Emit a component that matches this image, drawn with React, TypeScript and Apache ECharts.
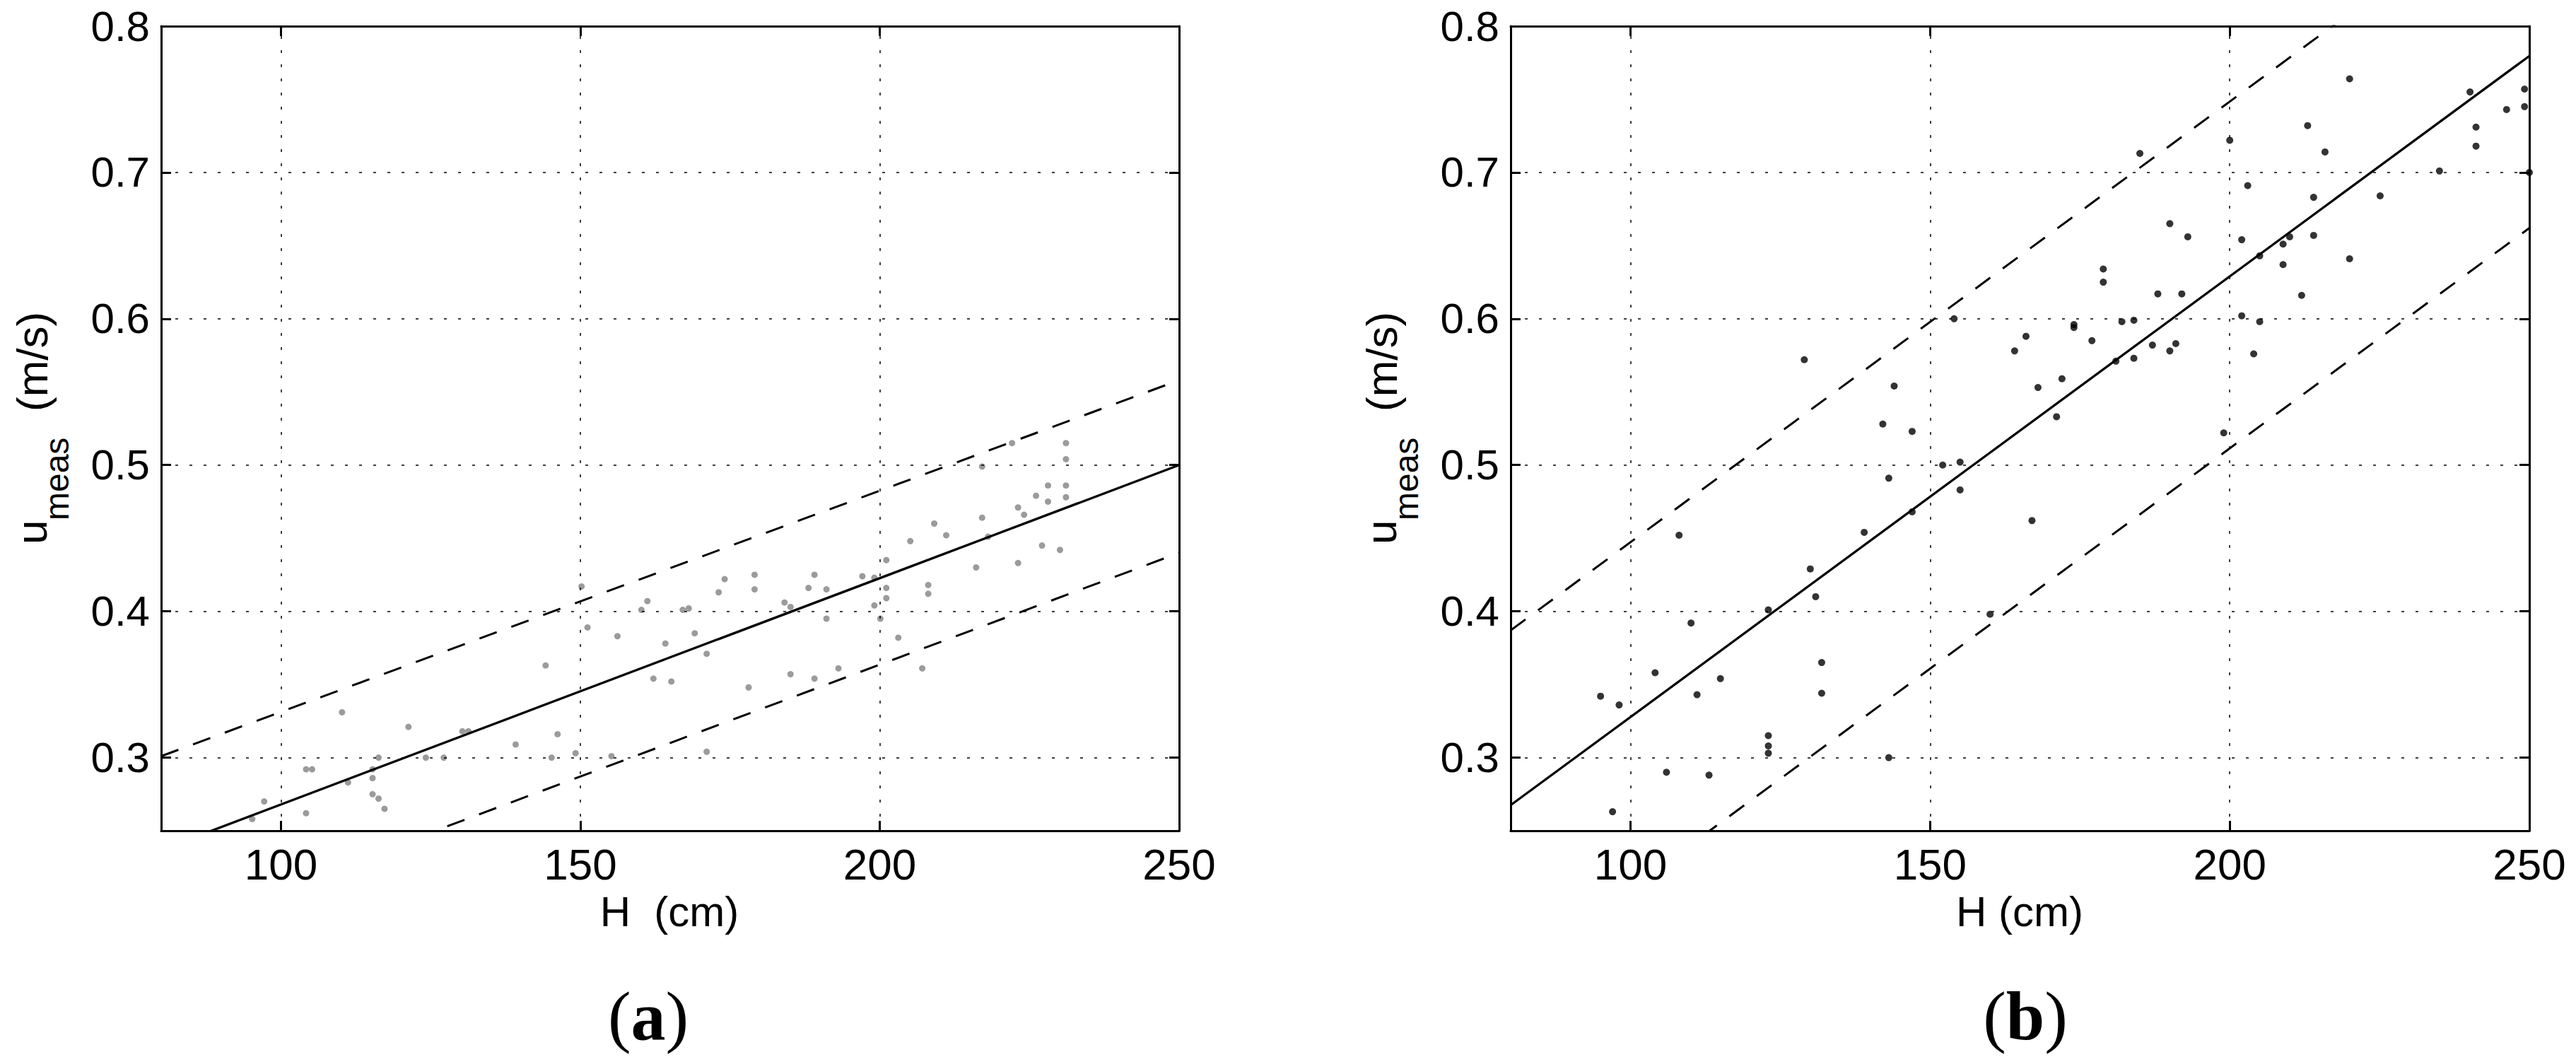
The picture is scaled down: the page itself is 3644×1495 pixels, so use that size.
import React, { useEffect, useRef } from "react";
import * as echarts from "echarts";

// ---------- data ----------
// Panel (a): measured points
const hA = [95.2, 97.2, 104.2, 104.2, 105.2, 110.2, 111.2, 115.3, 115.3, 116.3, 115.3, 116.3, 117.3, 121.3, 124.2, 127.2, 130.3, 131.3, 139.2, 144.2, 145.2, 146.2, 149.2, 150.2, 151.2, 155.2, 156.2, 160.2, 161.2, 162.2, 164.2, 165.2, 167.1, 168.1, 169.1, 171.1, 171.1, 173.1, 174.1, 178.1, 179.1, 179.1, 184.1, 185.1, 185.1, 188.1, 189.1, 189.1, 191.1, 191.1, 193.1, 197.1, 199.1, 199.1, 200.1, 201.1, 201.1, 201.1, 203.1, 205.1, 207.1, 208.1, 208.1, 209.1, 211.1, 216.1, 217.1, 217.1, 218.1, 222.1, 223.1, 223.1, 224.1, 226.1, 227.1, 228.1, 228.1, 230.1, 231.1, 231.1, 231.1, 231.1];
const uA = [0.258, 0.270, 0.262, 0.292, 0.292, 0.331, 0.283, 0.292, 0.286, 0.300, 0.275, 0.272, 0.265, 0.321, 0.300, 0.300, 0.318, 0.318, 0.309, 0.363, 0.300, 0.316, 0.303, 0.417, 0.389, 0.301, 0.383, 0.401, 0.407, 0.354, 0.378, 0.352, 0.401, 0.402, 0.385, 0.371, 0.304, 0.413, 0.422, 0.348, 0.425, 0.415, 0.406, 0.403, 0.357, 0.416, 0.425, 0.354, 0.415, 0.395, 0.361, 0.424, 0.423, 0.404, 0.395, 0.435, 0.416, 0.409, 0.382, 0.448, 0.361, 0.418, 0.412, 0.460, 0.452, 0.430, 0.499, 0.464, 0.451, 0.515, 0.471, 0.433, 0.466, 0.479, 0.445, 0.486, 0.475, 0.442, 0.515, 0.504, 0.486, 0.478];

// Panel (b): measured points
const hB = [95.0, 98.1, 97.0, 104.1, 106.0, 108.1, 110.1, 111.1, 113.1, 115.0, 123.0, 123.0, 123.0, 123.0, 129.0, 130.0, 130.9, 131.9, 131.9, 139.0, 142.1, 143.1, 143.1, 144.0, 147.0, 147.0, 152.1, 154.0, 155.0, 155.0, 160.0, 164.1, 166.0, 167.0, 168.0, 171.1, 172.0, 174.0, 174.0, 177.0, 178.9, 178.9, 181.0, 182.0, 184.0, 184.0, 185.0, 187.1, 188.0, 190.0, 190.0, 191.0, 192.0, 193.0, 199.0, 200.0, 202.0, 202.0, 203.0, 204.0, 205.0, 205.0, 208.9, 208.9, 210.0, 212.0, 213.0, 214.0, 214.0, 215.9, 220.0, 220.0, 225.1, 235.0, 240.1, 241.1, 241.1, 246.2, 249.2, 249.2, 250.0];
const uB = [0.342, 0.336, 0.263, 0.358, 0.290, 0.452, 0.392, 0.343, 0.288, 0.354, 0.401, 0.315, 0.308, 0.303, 0.572, 0.429, 0.410, 0.365, 0.344, 0.454, 0.528, 0.491, 0.300, 0.554, 0.523, 0.468, 0.500, 0.600, 0.502, 0.483, 0.398, 0.578, 0.588, 0.462, 0.553, 0.533, 0.559, 0.596, 0.594, 0.585, 0.634, 0.625, 0.571, 0.598, 0.599, 0.573, 0.713, 0.582, 0.617, 0.665, 0.578, 0.583, 0.617, 0.656, 0.522, 0.722, 0.654, 0.602, 0.691, 0.576, 0.643, 0.598, 0.637, 0.651, 0.656, 0.616, 0.732, 0.683, 0.657, 0.714, 0.764, 0.641, 0.684, 0.701, 0.755, 0.731, 0.718, 0.743, 0.757, 0.745, 0.700];

// Fit lines (values at H = 80 and H = 250)
const fitH = [80, 250];
const fitA = [0.237, 0.5];
const upperA = [0.301, 0.558];
const lowerA = [0.18, 0.44];
const fitB = [0.2675, 0.7796];
const upperB = [0.387, 0.899];
const lowerB = [0.15, 0.662];

// Axes
const xMin = 80;
const xMax = 250;
const yMin = 0.25;
const yMax = 0.8;
const xTicks = [100, 150, 200, 250];
const yTicks = [0.3, 0.4, 0.5, 0.6, 0.7, 0.8];
const xGrid = [100, 150, 200];
const yGrid = [0.3, 0.4, 0.5, 0.6, 0.7];

const FONT = "'Liberation Sans', Arial, Helvetica, sans-serif";
const SERIF = "'Liberation Serif', 'Times New Roman', Times, serif";

const zip = (xs: number[], ys: number[]) => xs.map((x, i) => [x, ys[i]]);

function makeX(gridIndex: number, position: string, labels: boolean) {
  return {
    type: "value",
    gridIndex,
    position,
    min: xMin,
    max: xMax,
    axisLine: { show: true, onZero: false, lineStyle: { color: "#000", width: 3 } },
    axisTick: { show: true, inside: true, length: 14, customValues: xTicks, lineStyle: { color: "#000", width: 3 } },
    axisLabel: {
      show: labels,
      customValues: xTicks,
      showMinLabel: true,
      showMaxLabel: true,
      margin: 16,
      color: "#000",
      fontSize: 62,
      fontFamily: FONT,
    },
    splitLine: { show: false },
  };
}

function makeY(gridIndex: number, position: string, labels: boolean) {
  return {
    type: "value",
    gridIndex,
    position,
    min: yMin,
    max: yMax,
    axisLine: { show: true, onZero: false, lineStyle: { color: "#000", width: 3 } },
    axisTick: { show: true, inside: true, length: 14, customValues: yTicks, lineStyle: { color: "#000", width: 3 } },
    axisLabel: {
      show: labels,
      customValues: yTicks,
      showMinLabel: true,
      showMaxLabel: true,
      margin: 16,
      color: "#000",
      fontSize: 60,
      fontFamily: FONT,
      formatter: (v: number) => v.toFixed(1),
    },
    splitLine: { show: false },
  };
}

function gridMarks() {
  return {
    silent: true,
    symbol: ["none", "none"],
    label: { show: false },
    lineStyle: { color: "#000", width: 1.5, type: [4, 16], opacity: 1 },
    emphasis: { disabled: true },
    data: [...xGrid.map((v) => ({ xAxis: v })), ...yGrid.map((v) => ({ yAxis: v }))],
  };
}

function lineSeries(xi: number, yi: number, ys: number[], dashed: boolean) {
  return {
    type: "line",
    xAxisIndex: xi,
    yAxisIndex: yi,
    data: zip(fitH, ys),
    showSymbol: false,
    symbol: "none",
    clip: true,
    silent: true,
    z: 3,
    lineStyle: { color: "#000", width: dashed ? 3 : 3.3, type: dashed ? [26, 22] : "solid" },
  };
}

function yTitle(dx: number) {
  return [
    {
      type: "text",
      x: 44 + dx,
      y: 770,
      rotation: Math.PI / 2,
      style: { text: "u", font: `62px ${FONT}`, fill: "#000", align: "left", verticalAlign: "middle" },
    },
    {
      type: "text",
      x: 80 + dx,
      y: 736,
      rotation: Math.PI / 2,
      style: { text: "meas", font: `48px ${FONT}`, fill: "#000", align: "left", verticalAlign: "middle" },
    },
    {
      type: "text",
      x: 45 + dx,
      y: 582,
      rotation: Math.PI / 2,
      style: { text: "(m/s)", font: `62px ${FONT}`, fill: "#000", align: "left", verticalAlign: "middle" },
    },
  ];
}

function panelLabel(x: number, letter: string) {
  return {
    type: "text",
    x,
    y: 1437,
    style: {
      text: `{p|(}{b|${letter}}{p|)}`,
      align: "center",
      verticalAlign: "middle",
      fill: "#000",
      rich: {
        p: { font: `98px ${SERIF}`, fill: "#000" },
        b: { font: `bold 98px ${SERIF}`, fill: "#000" },
      },
    },
  };
}

export default function App() {
  const ref = useRef<HTMLDivElement>(null);
  useEffect(() => {
    if (!ref.current) return;
    const chart = echarts.init(ref.current, null, { renderer: "svg" });
    const option: any = {
      animation: false,
      backgroundColor: "#fff",
      grid: [
        { left: 228, top: 37, width: 1440, height: 1138 },
        { left: 2137, top: 37, width: 1441, height: 1138 },
      ],
      xAxis: [makeX(0, "bottom", true), makeX(0, "top", false), makeX(1, "bottom", true), makeX(1, "top", false)],
      yAxis: [makeY(0, "left", true), makeY(0, "right", false), makeY(1, "left", true), makeY(1, "right", false)],
      series: [
        {
          type: "scatter",
          xAxisIndex: 0,
          yAxisIndex: 0,
          data: zip(hA, uA),
          symbol: "circle",
          symbolSize: 9,
          itemStyle: { color: "#828282" },
          silent: true,
          z: 2,
          markLine: gridMarks(),
        },
        lineSeries(0, 0, fitA, false),
        lineSeries(0, 0, upperA, true),
        lineSeries(0, 0, lowerA, true),
        {
          type: "scatter",
          xAxisIndex: 2,
          yAxisIndex: 2,
          data: zip(hB, uB),
          symbol: "circle",
          symbolSize: 10,
          itemStyle: { color: "#000" },
          silent: true,
          z: 2,
          markLine: gridMarks(),
        },
        lineSeries(2, 2, fitB, false),
        lineSeries(2, 2, upperB, true),
        lineSeries(2, 2, lowerB, true),
      ],
      graphic: [
        ...yTitle(0),
        ...yTitle(1909),
        {
          type: "text",
          x: 947,
          y: 1289,
          style: { text: "H  (cm)", font: `60px ${FONT}`, fill: "#000", align: "center", verticalAlign: "middle" },
        },
        {
          type: "text",
          x: 2857,
          y: 1289,
          style: { text: "H (cm)", font: `60px ${FONT}`, fill: "#000", align: "center", verticalAlign: "middle" },
        },
        panelLabel(917, "a"),
        panelLabel(2865, "b"),
      ],
    };
    chart.setOption(option);
    return () => chart.dispose();
  }, []);
  return (
    <div
      ref={ref}
      style={{ position: "absolute", left: 0, top: 0, width: 3644, height: 1495, background: "#fff" }}
    />
  );
}
